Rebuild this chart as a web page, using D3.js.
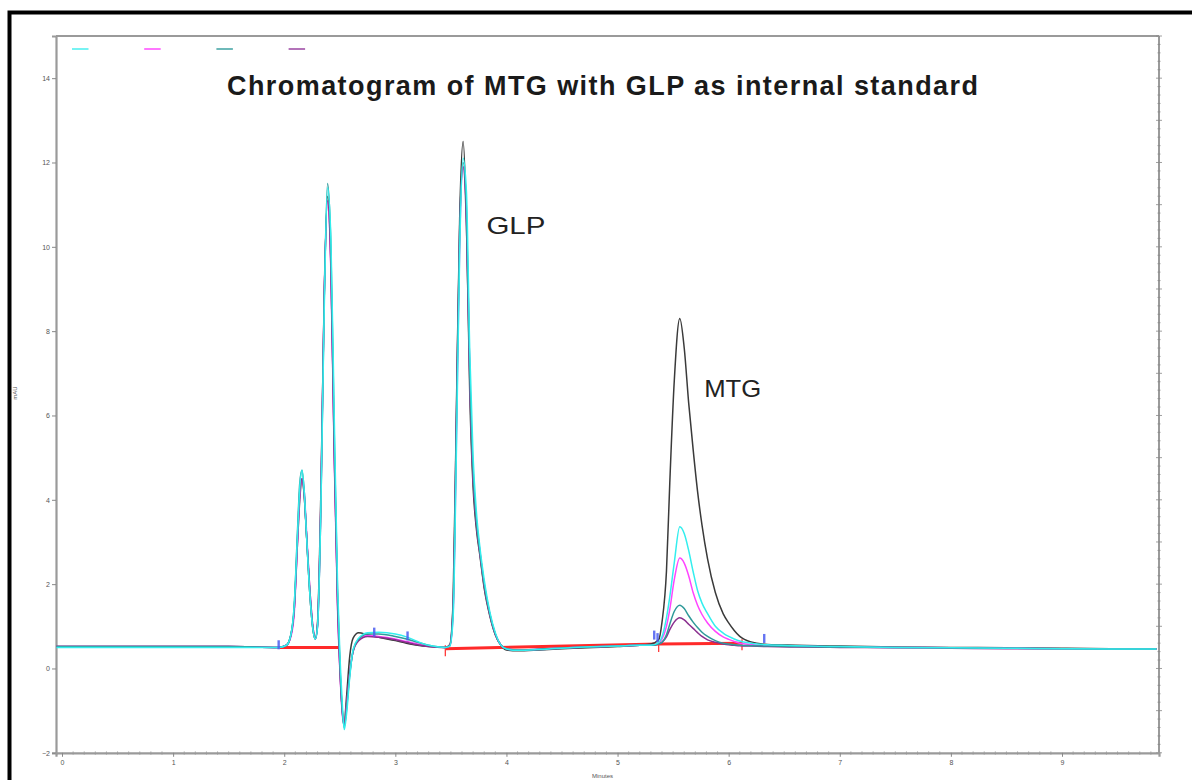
<!DOCTYPE html>
<html>
<head>
<meta charset="utf-8">
<script src="https://cdn.jsdelivr.net/npm/d3@7"></script>
<style>
  html, body { margin: 0; padding: 0; background: #fff; }
  svg { display: block; }
</style>
</head>
<body>
<svg id="chart" width="1192" height="780"></svg>
<script>
// ---------------- DATA ----------------
const TITLE = "Chromatogram of MTG with GLP as internal standard";
const X_TICKS = [0, 1, 2, 3, 4, 5, 6, 7, 8, 9];
const Y_TICKS = [-2, 0, 2, 4, 6, 8, 10, 12, 14];
const X_DOMAIN = [-0.054, 9.873];
const Y_DOMAIN = [-2, 15];
const X_LABEL = "Minutes";
const Y_LABEL = "mAU";

// retention time (min)
const T = [
  -0.05, 0.5, 1.0, 1.5, 1.95, 2.02, 2.06, 2.09, 2.12, 2.14,
  2.16, 2.18, 2.20, 2.23, 2.26, 2.28, 2.30, 2.33, 2.36, 2.39,
  2.42, 2.45, 2.48, 2.50, 2.52, 2.54, 2.56, 2.59, 2.62, 2.67,
  2.75, 2.85, 3.0, 3.1, 3.2, 3.3, 3.45, 3.49, 3.52, 3.55,
  3.58, 3.61, 3.64, 3.67, 3.70, 3.73, 3.76, 3.80, 3.85, 3.90,
  3.95, 4.0, 4.1, 4.3, 4.6, 5.0, 5.2, 5.30, 5.37, 5.40,
  5.44, 5.47, 5.51, 5.56, 5.60, 5.64, 5.68, 5.72, 5.76, 5.81,
  5.88, 5.95, 6.0, 6.05, 6.1, 6.2, 6.35, 6.6, 7.0, 7.5,
  8.0, 8.5, 9.0, 9.5, 9.85
];

const BLACK = [
  0.52, 0.52, 0.52, 0.52, 0.50, 0.55, 0.8, 1.4, 3.0, 4.0,
  4.5, 4.1, 3.2, 1.8, 0.9, 0.7, 1.1, 4.2, 8.8, 11.2,
  9.6, 5.2, 1.6, 0.1, -0.9, -1.3, -0.7, 0.3, 0.72, 0.85,
  0.8, 0.74, 0.66, 0.6, 0.55, 0.52, 0.5, 0.56, 1.6, 6.2,
  10.8, 12.5, 10.6, 6.5, 4.3, 3.3, 2.7, 1.9, 1.25, 0.8,
  0.55, 0.44, 0.42, 0.44, 0.48, 0.52, 0.55, 0.58, 0.68, 1.1,
  2.3, 4.4, 6.8, 8.3, 7.6, 6.3, 5.2, 4.2, 3.4, 2.6,
  1.8, 1.3, 1.08, 0.9, 0.76, 0.63, 0.57, 0.55, 0.53, 0.51,
  0.5, 0.49, 0.48, 0.47, 0.47
];

const CYAN = [
  0.5, 0.5, 0.5, 0.5, 0.5, 0.55, 0.8, 1.5, 3.2, 4.3,
  4.7, 4.2, 3.2, 1.8, 0.9, 0.7, 1.0, 3.8, 8.5, 11.4,
  10.2, 6.0, 2.0, 0.4, -0.7, -1.45, -1.1, -0.2, 0.45, 0.72,
  0.85, 0.86, 0.82, 0.75, 0.64, 0.55, 0.5, 0.53, 1.2, 5.2,
  10.0, 12.1, 11.3, 7.5, 5.0, 3.7, 2.9, 2.1, 1.35, 0.85,
  0.55, 0.46, 0.43, 0.45, 0.5, 0.53, 0.55, 0.55, 0.62, 0.75,
  1.2, 1.7, 2.5, 3.36, 3.2, 2.8, 2.3, 1.85, 1.55, 1.3,
  1.0, 0.84, 0.76, 0.7, 0.65, 0.6, 0.56, 0.54, 0.52, 0.5,
  0.49, 0.48, 0.47, 0.46, 0.46
];

const MAGENTA = [
  0.52, 0.52, 0.52, 0.52, 0.5, 0.55, 0.75, 1.3, 3.0, 4.1,
  4.5, 4.2, 3.3, 1.9, 0.95, 0.7, 1.0, 3.9, 8.8, 11.1,
  9.4, 5.0, 1.4, 0.0, -1.0, -1.35, -0.9, -0.1, 0.4, 0.68,
  0.78, 0.76, 0.7, 0.64, 0.58, 0.53, 0.5, 0.54, 1.3, 5.5,
  10.2, 11.9, 10.8, 7.0, 4.6, 3.5, 2.8, 2.0, 1.3, 0.82,
  0.56, 0.47, 0.44, 0.46, 0.5, 0.53, 0.55, 0.55, 0.6, 0.7,
  1.0, 1.4, 2.1, 2.62, 2.5, 2.2, 1.8, 1.5, 1.28, 1.08,
  0.88, 0.75, 0.69, 0.64, 0.6, 0.57, 0.54, 0.53, 0.51, 0.5,
  0.49, 0.48, 0.47, 0.46, 0.46
];

const TEAL = [
  0.52, 0.52, 0.52, 0.52, 0.5, 0.55, 0.8, 1.5, 3.3, 4.4,
  4.7, 4.2, 3.2, 1.8, 0.9, 0.7, 1.0, 3.8, 8.7, 11.5,
  10.0, 5.6, 1.8, 0.2, -0.9, -1.4, -1.0, -0.15, 0.42, 0.7,
  0.82, 0.82, 0.76, 0.7, 0.62, 0.55, 0.5, 0.54, 1.4, 5.8,
  10.5, 12.0, 10.9, 7.0, 4.7, 3.5, 2.8, 2.0, 1.3, 0.82,
  0.56, 0.47, 0.44, 0.46, 0.5, 0.53, 0.55, 0.55, 0.58, 0.62,
  0.8, 1.05, 1.35, 1.5, 1.42, 1.25, 1.1, 0.97, 0.86, 0.76,
  0.66, 0.6, 0.58, 0.56, 0.55, 0.54, 0.53, 0.52, 0.51, 0.5,
  0.49, 0.48, 0.47, 0.46, 0.46
];

const PURPLE = [
  0.52, 0.52, 0.52, 0.52, 0.5, 0.55, 0.78, 1.4, 3.1, 4.2,
  4.5, 4.1, 3.2, 1.9, 0.95, 0.72, 1.05, 4.0, 8.9, 11.1,
  9.5, 5.1, 1.5, 0.05, -0.95, -1.35, -0.95, -0.1, 0.4, 0.66,
  0.76, 0.74, 0.68, 0.62, 0.56, 0.52, 0.5, 0.55, 1.5, 6.0,
  10.6, 11.9, 10.5, 6.8, 4.5, 3.4, 2.75, 1.95, 1.28, 0.8,
  0.55, 0.46, 0.43, 0.45, 0.5, 0.53, 0.55, 0.55, 0.58, 0.62,
  0.75, 0.92, 1.1, 1.2, 1.15, 1.05, 0.95, 0.85, 0.76, 0.68,
  0.62, 0.58, 0.56, 0.55, 0.54, 0.53, 0.52, 0.51, 0.5, 0.49,
  0.48, 0.47, 0.47, 0.46, 0.46
];

const SERIES_NAMES = ["black", "magenta", "purple", "teal", "cyan"];
const SERIES_COLORS = ["#3a3a3a", "#ff44ff", "#8b2f8f", "#2f9a9a", "#33eeee"];
const SERIES_VALUES = [BLACK, MAGENTA, PURPLE, TEAL, CYAN];

// legend (four short swatches in the top-left)
const LEGEND_COLORS = ["#55f0f0", "#ff55ff", "#4aa8a8", "#a050a8"];

// integration baselines: [start time, start value, end time, end value]
const BASE_T0 = [1.96, 3.45, 5.37];
const BASE_V0 = [0.50, 0.47, 0.58];
const BASE_T1 = [2.50, 5.37, 6.12];
const BASE_V1 = [0.50, 0.58, 0.60];
const RED_TICK_T = [3.45, 5.37, 6.12];
const RED_TICK_V = [0.48, 0.58, 0.62];

// peak start/end markers
const BLUE_T = [1.95, 2.81, 3.11, 5.33, 5.36, 6.32];
const BLUE_V = [0.55, 0.85, 0.76, 0.78, 0.72, 0.7];

// annotations
const ANNOT_TEXT = ["GLP", "MTG"];
const ANNOT_T = [3.82, 5.78];
const ANNOT_V = [10.3, 6.45];

// ---------------- CHART ----------------
const svg = d3.select("#chart");
const L = 56, R = 1159, TOP = 36, BOT = 752.8;

const x = d3.scaleLinear().domain(X_DOMAIN).range([L, R]);
const y = d3.scaleLinear().domain(Y_DOMAIN).range([BOT, TOP]);

const axisColor = "#9a9a9a";
const labelColor = "#555";

// outer black frame
svg.append("rect")
  .attr("x", 9.5).attr("y", 12.5)
  .attr("width", 1200).attr("height", 800)
  .attr("fill", "none").attr("stroke", "#000").attr("stroke-width", 4);

// frame top & right
svg.append("line").attr("x1", L).attr("x2", R).attr("y1", TOP).attr("y2", TOP)
  .attr("stroke", axisColor).attr("stroke-width", 2);
svg.append("line").attr("x1", R).attr("x2", R).attr("y1", TOP).attr("y2", BOT)
  .attr("stroke", axisColor).attr("stroke-width", 2);

// right minor ticks
const rightTicks = d3.range(Y_DOMAIN[0], Y_DOMAIN[1] + 0.001, 0.2);
svg.append("g").selectAll("line").data(rightTicks).join("line")
  .attr("x1", d => (Math.abs(d - Math.round(d)) < 0.01) ? R - 3 : R - 1.5)
  .attr("x2", d => (Math.abs(d - Math.round(d)) < 0.01) ? R + 3 : R + 1.5)
  .attr("y1", d => y(d)).attr("y2", d => y(d))
  .attr("stroke", "#888").attr("stroke-width", 0.8);

// y axis
const yAxis = d3.axisLeft(y).tickValues(Y_TICKS).tickSize(4).tickPadding(2).tickFormat(d3.format("d"));
const gy = svg.append("g").attr("transform", `translate(${L},0)`).call(yAxis);
gy.select(".domain").attr("stroke", axisColor).attr("stroke-width", 2.2);
gy.selectAll(".tick line").attr("stroke", "#888");
gy.selectAll(".tick text").attr("fill", labelColor)
  .style("font-family", "Arial, 'Liberation Sans', sans-serif").style("font-size", "7px");

// x axis
const xAxis = d3.axisBottom(x).tickValues(X_TICKS).tickSize(4).tickPadding(3).tickFormat(d3.format("d"));
const gx = svg.append("g").attr("transform", `translate(0,${BOT})`).call(xAxis);
gx.select(".domain").attr("stroke", axisColor).attr("stroke-width", 2.2);
gx.selectAll(".tick line").attr("stroke", "#888");
gx.selectAll(".tick text").attr("fill", labelColor)
  .style("font-family", "Arial, 'Liberation Sans', sans-serif").style("font-size", "7px");

// x minor ticks
const xMinor = d3.range(0, X_DOMAIN[1], 0.1).filter(d => Math.abs(d - Math.round(d)) > 0.01);
svg.append("g").selectAll("line").data(xMinor).join("line")
  .attr("x1", d => x(d)).attr("x2", d => x(d))
  .attr("y1", BOT - 1.5).attr("y2", BOT + 2)
  .attr("stroke", "#999").attr("stroke-width", 0.7);

// axis titles
svg.append("text").attr("x", 592).attr("y", 778)
  .attr("fill", labelColor).style("font-family", "Arial, sans-serif").style("font-size", "6px")
  .text(X_LABEL);
svg.append("text").attr("transform", "translate(17,393) rotate(-90)")
  .attr("text-anchor", "middle")
  .attr("fill", labelColor).style("font-family", "Arial, sans-serif").style("font-size", "6px")
  .text(Y_LABEL);

// clip
svg.append("clipPath").attr("id", "clip").append("rect")
  .attr("x", L).attr("y", TOP).attr("width", R - L).attr("height", BOT - TOP);
const plot = svg.append("g").attr("clip-path", "url(#clip)");

// red integration baselines
BASE_T0.forEach((t0, i) => {
  plot.append("line")
    .attr("x1", x(t0)).attr("y1", y(BASE_V0[i]))
    .attr("x2", x(BASE_T1[i])).attr("y2", y(BASE_V1[i]))
    .attr("stroke", "#ff2a2a").attr("stroke-width", 3);
});
RED_TICK_T.forEach((t, i) => {
  plot.append("line")
    .attr("x1", x(t)).attr("x2", x(t))
    .attr("y1", y(RED_TICK_V[i]) - 3).attr("y2", y(RED_TICK_V[i]) + 8)
    .attr("stroke", "#ff3a3a").attr("stroke-width", 1.3);
});

// traces
const line = d3.line()
  .x((d, i) => x(T[i]))
  .y(d => y(d))
  .curve(d3.curveMonotoneX);

SERIES_VALUES.forEach((vals, i) => {
  plot.append("path")
    .datum(vals)
    .attr("class", "trace " + SERIES_NAMES[i])
    .attr("fill", "none")
    .attr("stroke", SERIES_COLORS[i])
    .attr("stroke-width", 1.5)
    .attr("stroke-linejoin", "round")
    .attr("d", line);
});

// blue markers
BLUE_T.forEach((t, i) => {
  plot.append("rect")
    .attr("x", x(t) - 1.2).attr("y", y(BLUE_V[i]) - 5)
    .attr("width", 2.4).attr("height", 9)
    .attr("fill", "#4a5cf0").attr("opacity", 0.85);
});

// legend swatches
LEGEND_COLORS.forEach((c, i) => {
  svg.append("line")
    .attr("x1", 72 + i * 72.2).attr("x2", 88.5 + i * 72.2)
    .attr("y1", 49).attr("y2", 49)
    .attr("stroke", c).attr("stroke-width", 1.6);
});

// title
svg.append("text")
  .attr("x", 227).attr("y", 95)
  .attr("textLength", 751).attr("lengthAdjust", "spacing")
  .attr("fill", "#1a1a1a")
  .style("font-family", "Arial, 'Liberation Sans', sans-serif")
  .style("font-size", "27px").style("font-weight", "bold")
  .text(TITLE);

// peak annotations
const annotWidths = [59, 57];
ANNOT_TEXT.forEach((s, i) => {
  svg.append("text")
    .attr("x", x(ANNOT_T[i])).attr("y", y(ANNOT_V[i]))
    .attr("textLength", annotWidths[i]).attr("lengthAdjust", "spacingAndGlyphs")
    .attr("fill", "#222")
    .style("font-family", "Arial, 'Liberation Sans', sans-serif")
    .style("font-size", "24px")
    .text(s);
});
</script>
</body>
</html>
